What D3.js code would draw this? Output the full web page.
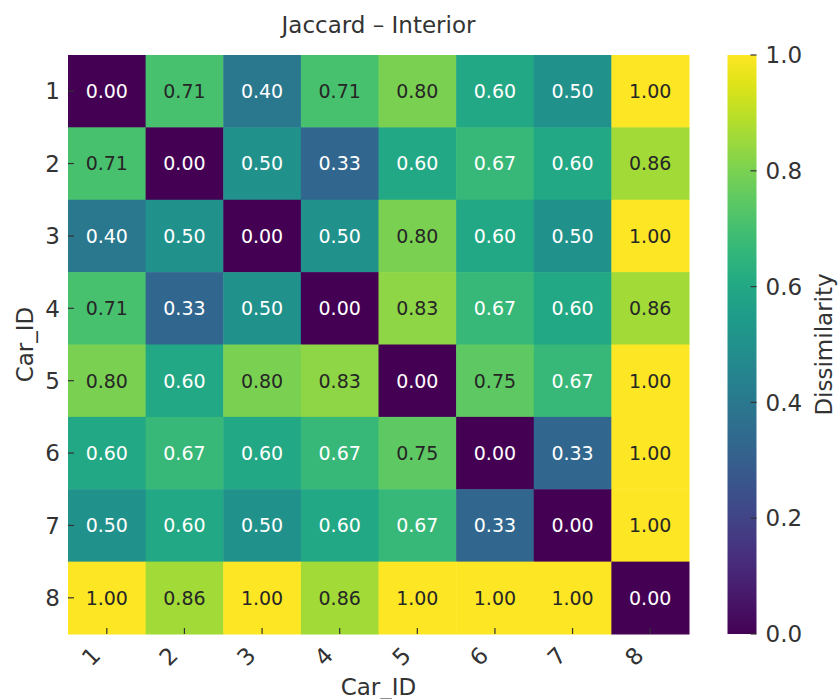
<!DOCTYPE html>
<html>
<head>
<meta charset="utf-8">
<script src="https://cdn.jsdelivr.net/npm/d3@7"></script>
<style>
  body { margin: 0; background: #fff; }
  svg text { font-family: "DejaVu Sans", sans-serif; }
</style>
</head>
<body>
<svg class="heatmap" width="839" height="699"></svg>
<script>
const carIds = ['1', '2', '3', '4', '5', '6', '7', '8'];

const dissimilarity = [
    [0.00, 0.71, 0.40, 0.71, 0.80, 0.60, 0.50, 1.00],
    [0.71, 0.00, 0.50, 0.33, 0.60, 0.67, 0.60, 0.86],
    [0.40, 0.50, 0.00, 0.50, 0.80, 0.60, 0.50, 1.00],
    [0.71, 0.33, 0.50, 0.00, 0.83, 0.67, 0.60, 0.86],
    [0.80, 0.60, 0.80, 0.83, 0.00, 0.75, 0.67, 1.00],
    [0.60, 0.67, 0.60, 0.67, 0.75, 0.00, 0.33, 1.00],
    [0.50, 0.60, 0.50, 0.60, 0.67, 0.33, 0.00, 1.00],
    [1.00, 0.86, 1.00, 0.86, 1.00, 1.00, 1.00, 0.00]
];

const colorTicks = [0, 0.2, 0.4, 0.6, 0.8, 1.0];

const svg = d3.select('.heatmap');
const margin = { left: 68, top: 55, right: 150, bottom: 65 };
const width = 839 - margin.left - margin.right;   // 621
const height = 699 - margin.top - margin.bottom;  // 579
const textColor = '#333333';

const x = d3.scaleBand().domain(carIds).range([0, width]);
const y = d3.scaleBand().domain(carIds).range([0, height]);
const color = d3.scaleSequential(d3.interpolateViridis).domain([0, 1]);

// relative luminance, used to pick dark or light annotation text
const lum = c => {
    const rgb = d3.rgb(c);
    const f = v => {
        v /= 255;
        return v <= 0.03928 ? v / 12.92 : Math.pow((v + 0.055) / 1.055, 2.4);
    };
    return 0.2126 * f(rgb.r) + 0.7152 * f(rgb.g) + 0.0722 * f(rgb.b);
};
const lumCut = lum(color(0.69));

const cells = [];
dissimilarity.forEach((row, i) => row.forEach((v, j) => {
    cells.push({ row: carIds[i], col: carIds[j], value: v });
}));

const g = svg.append('g')
    .attr('transform', `translate(${margin.left},${margin.top})`);

g.selectAll('rect.cell')
    .data(cells)
    .enter()
    .append('rect')
    .attr('class', 'cell')
    .attr('x', d => x(d.col))
    .attr('y', d => y(d.row))
    .attr('width', x.bandwidth() + 0.5)
    .attr('height', y.bandwidth() + 0.5)
    .attr('fill', d => color(d.value));

g.selectAll('text.annot')
    .data(cells)
    .enter()
    .append('text')
    .attr('class', 'annot')
    .attr('x', d => x(d.col) + x.bandwidth() / 2)
    .attr('y', d => y(d.row) + y.bandwidth() / 2)
    .attr('text-anchor', 'middle')
    .attr('dy', '0.36em')
    .attr('font-size', 19)
    .attr('fill', d => lum(color(d.value)) > lumCut ? '#262626' : '#ffffff')
    .text(d => d.value.toFixed(2));

// y axis (ticks sit on the cell edge like the reference)
const yAxisG = g.append('g');
yAxisG.selectAll('line')
    .data(carIds)
    .enter()
    .append('line')
    .attr('x1', 0).attr('x2', 6)
    .attr('y1', d => y(d) + y.bandwidth() / 2)
    .attr('y2', d => y(d) + y.bandwidth() / 2)
    .attr('stroke', textColor).attr('stroke-width', 1.2);
yAxisG.selectAll('text')
    .data(carIds)
    .enter()
    .append('text')
    .attr('x', -8)
    .attr('y', d => y(d) + y.bandwidth() / 2)
    .attr('dy', '0.36em')
    .attr('text-anchor', 'end')
    .attr('font-size', 23)
    .attr('fill', textColor)
    .text(d => d);

// x axis
const xAxisG = g.append('g');
xAxisG.selectAll('line')
    .data(carIds)
    .enter()
    .append('line')
    .attr('x1', d => x(d) + x.bandwidth() / 2)
    .attr('x2', d => x(d) + x.bandwidth() / 2)
    .attr('y1', height - 6).attr('y2', height)
    .attr('stroke', textColor).attr('stroke-width', 1.2);
xAxisG.selectAll('text')
    .data(carIds)
    .enter()
    .append('text')
    .attr('transform', d => `translate(${x(d) + x.bandwidth() / 2 - 5},${height + 23}) rotate(-45)`)
    .attr('text-anchor', 'end')
    .attr('font-size', 23)
    .attr('fill', textColor)
    .text(d => d);

// axis labels and title
g.append('text')
    .attr('x', width / 2)
    .attr('y', height + 61)
    .attr('text-anchor', 'middle')
    .attr('font-size', 23)
    .attr('fill', textColor)
    .text('Car_ID');

g.append('text')
    .attr('transform', `translate(${-35},${height / 2}) rotate(-90)`)
    .attr('text-anchor', 'middle')
    .attr('font-size', 23)
    .attr('fill', textColor)
    .text('Car_ID');

g.append('text')
    .attr('x', width / 2)
    .attr('y', -22)
    .attr('text-anchor', 'middle')
    .attr('font-size', 23)
    .attr('fill', textColor)
    .text('Jaccard – Interior');

// colour bar
const cbX = 727.5, cbW = 29;
const cb = d3.scaleLinear().domain([0, 1]).range([margin.top + height, margin.top]);

const grad = svg.append('defs').append('linearGradient')
    .attr('id', 'viridis')
    .attr('x1', 0).attr('y1', 1).attr('x2', 0).attr('y2', 0);
grad.selectAll('stop')
    .data(d3.range(0, 1.0001, 0.05))
    .enter()
    .append('stop')
    .attr('offset', d => d)
    .attr('stop-color', d => color(d));

svg.append('rect')
    .attr('x', cbX)
    .attr('y', margin.top)
    .attr('width', cbW)
    .attr('height', height)
    .attr('fill', 'url(#viridis)');

const cbAxis = svg.append('g');
cbAxis.selectAll('line')
    .data(colorTicks)
    .enter()
    .append('line')
    .attr('x1', cbX + cbW - 6).attr('x2', cbX + cbW)
    .attr('y1', d => cb(d)).attr('y2', d => cb(d))
    .attr('stroke', textColor).attr('stroke-width', 1.2);
cbAxis.selectAll('text')
    .data(colorTicks)
    .enter()
    .append('text')
    .attr('x', cbX + cbW + 9)
    .attr('y', d => cb(d))
    .attr('dy', '0.36em')
    .attr('font-size', 23)
    .attr('fill', textColor)
    .text(d => d3.format('.1f')(d));

svg.append('text')
    .attr('transform', `translate(832,${margin.top + height / 2}) rotate(-90)`)
    .attr('text-anchor', 'middle')
    .attr('font-size', 23)
    .attr('fill', textColor)
    .text('Dissimilarity');
</script>
</body>
</html>
